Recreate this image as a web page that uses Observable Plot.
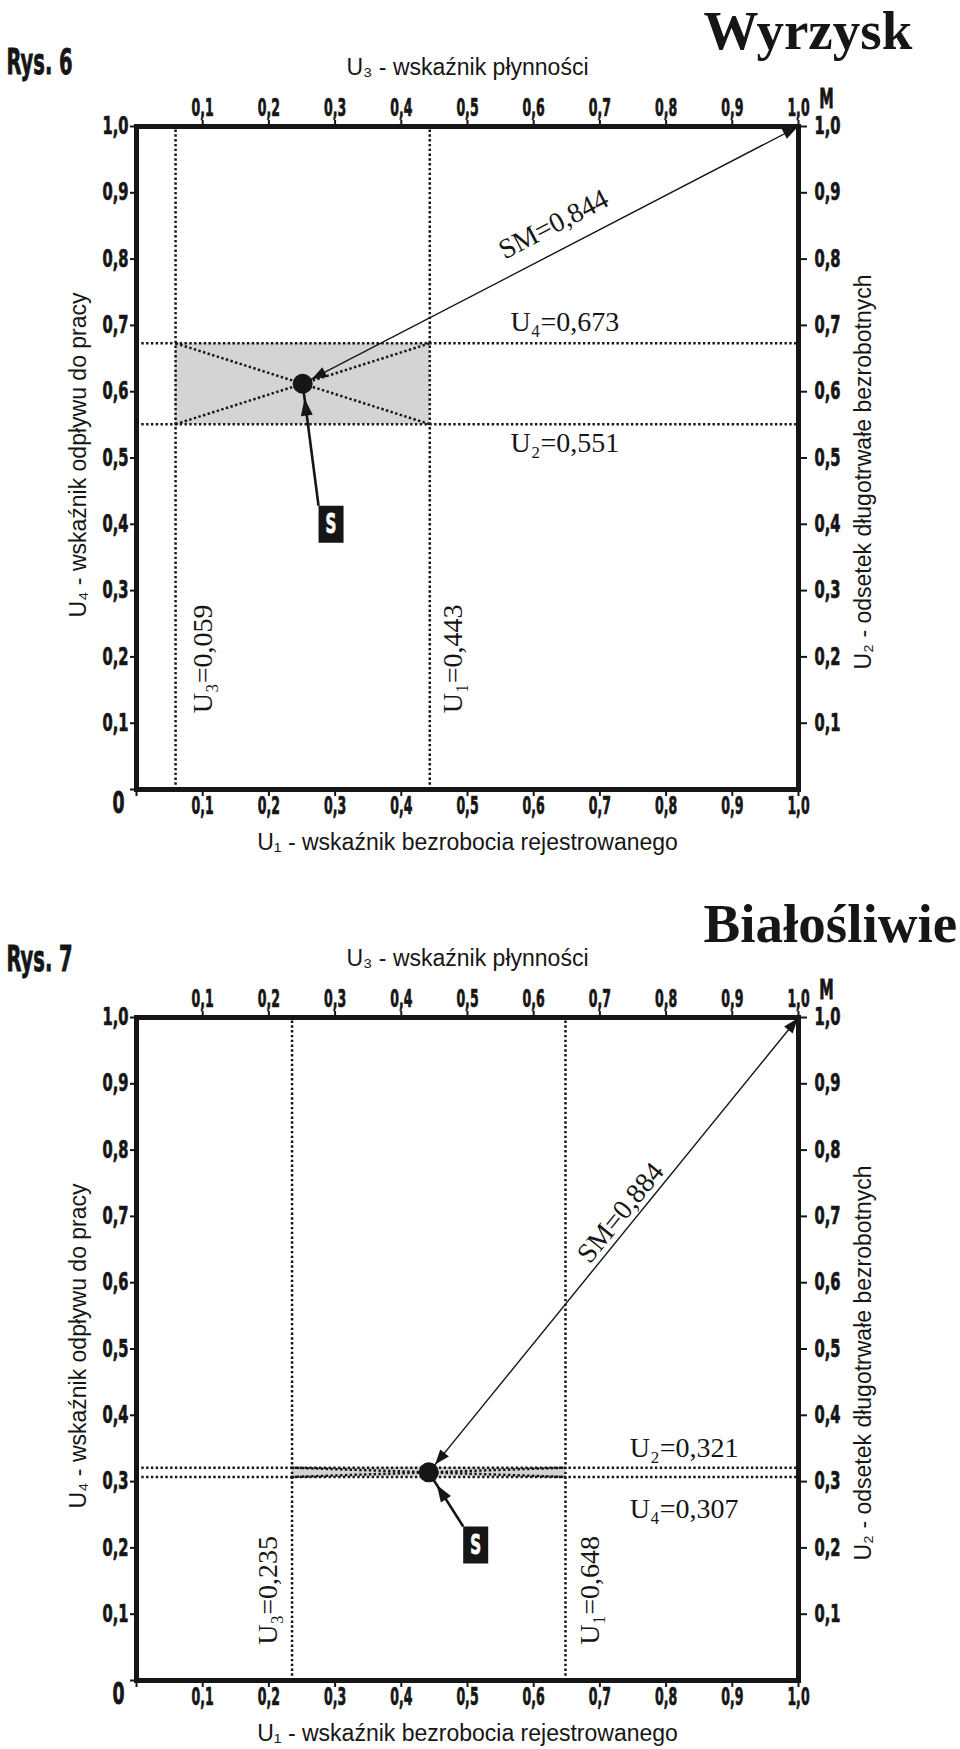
<!DOCTYPE html>
<html><head><meta charset="utf-8">
<script src="https://cdn.jsdelivr.net/npm/d3@7"></script>
<script src="https://cdn.jsdelivr.net/npm/@observablehq/plot@0.6"></script>
<style>html,body{margin:0;padding:0;background:#fff;} svg{display:block;}</style>
</head><body><div id="root"></div>
<script>
// ---- data ----
const chartNames = ["Wyrzysk", "Białośliwie"];
const figureNumbers = ["Rys. 6", "Rys. 7"];
const u1Values = [0.443, 0.648];   // wskaźnik bezrobocia rejestrowanego (x, bottom)
const u2Values = [0.551, 0.321];   // odsetek długotrwale bezrobotnych (y, right)
const u3Values = [0.059, 0.235];   // wskaźnik płynności (x, top)
const u4Values = [0.673, 0.307];   // wskaźnik odpływu do pracy (y, left)
const smValues = [0.844, 0.884];   // distance S-M
const axisTicks = [0.1, 0.2, 0.3, 0.4, 0.5, 0.6, 0.7, 0.8, 0.9, 1.0];
const axisTicksWithZero = [0, 0.1, 0.2, 0.3, 0.4, 0.5, 0.6, 0.7, 0.8, 0.9, 1.0];
const titleBottom = "U₁ - wskaźnik bezrobocia rejestrowanego";
const titleTop = "U₃ - wskaźnik płynności";
const titleLeft = "U₄ - wskaźnik odpływu do pracy";
const titleRight = "U₂ - odsetek długotrwałe bezrobotnych";

// ---- layout ----
const W = 960, ML = 136, MR = 162;
const layouts = [
  {height: 891, marginTop: 126, marginBottom: 102, rysDy: -53, nameDy: -78, vLabelY: 0.115, u3Dx: 36, u1Dx: 32,
   hLabelX: 0.565, upperDy: -12, lowerDy: 28, smT: 0.53, smOff: 26, boxX: 0.275, boxY: 0.428},
  {height: 858, marginTop: 126, marginBottom: 69, rysDy: -47, nameDy: -76, vLabelY: 0.054, u3Dx: -15, u1Dx: 34,
   hLabelX: 0.745, upperDy: -11, lowerDy: 41, smT: 0.55, smOff: 15, boxX: 0.4935, boxY: 0.2323}
];
const INK = "#161616";
const NARROW = '"DejaVu Sans Condensed", "DejaVu Sans", sans-serif';
const SANS = '"Liberation Sans", Arial, sans-serif';
const SERIF = '"Liberation Serif", "Times New Roman", serif';

const fmt1 = d => d === 0 ? "" : d.toFixed(1).replace(".", ",");
const fmt3 = d => d.toFixed(3).replace(".", ",");

function headSymbol(dx, dy, off, len, half) {
  const n = Math.hypot(dx, dy), ux = dx / n, uy = dy / n;
  return {draw(ctx) {
    const tx = -ux * off, ty = -uy * off;
    const bx = tx - ux * len, by = ty - uy * len;
    ctx.moveTo(tx, ty);
    ctx.lineTo(bx - uy * half, by + ux * half);
    ctx.lineTo(bx + uy * half, by - ux * half);
    ctx.closePath();
  }};
}
const boxSymbol = {draw(ctx) { ctx.rect(0, 0, 25, 37); }};

// condensed, heavy look of the original's display font
function condense(svg) {
  const squeeze = (sel, k, sw) => svg.querySelectorAll(sel).forEach(t => {
    if (t.dataset.squeezed) return;
    t.dataset.squeezed = "1";
    t.setAttribute("transform", (t.getAttribute("transform") || "") + ` scale(${k},1)`);
    const f = t.getAttribute("fill") || t.parentNode.getAttribute("fill");
    t.setAttribute("stroke", f === "#fff" ? "#fff" : INK);
    t.setAttribute("stroke-width", sw);
  });
  squeeze('g[aria-label="x-axis tick label"] text', 0.58, 0.7);
  squeeze('g[aria-label="y-axis tick label"] text', 0.68, 0.7);
  squeeze('.narrow text, text.narrow, text[aria-label="narrow"]', 0.62, 0.8);
  return svg;
}

function renderChart(i) {
  const L = layouts[i];
  const H = L.height, MT = L.marginTop, MB = L.marginBottom;
  const kx = W - ML - MR, ky = H - MT - MB;
  const u1 = u1Values[i], u2 = u2Values[i], u3 = u3Values[i], u4 = u4Values[i];
  const xLo = Math.min(u1, u3), xHi = Math.max(u1, u3);
  const yLo = Math.min(u2, u4), yHi = Math.max(u2, u4);
  const S = {x: (u1 + u3) / 2, y: (u2 + u4) / 2};
  const M = {x: 1, y: 1};
  const sdx = (M.x - S.x) * kx, sdy = -(M.y - S.y) * ky, sn = Math.hypot(sdx, sdy);
  const ang = Math.atan2(sdy, sdx) * 180 / Math.PI;
  const nx = sdy / sn, ny = -sdx / sn;
  const smLabel = [{x: S.x + L.smT * (M.x - S.x), y: S.y + L.smT * (M.y - S.y), t: "SM=" + fmt3(smValues[i])}];
  const box = {x: L.boxX, y: L.boxY};
  const bdx = (S.x - box.x) * kx, bdy = -(S.y - box.y) * ky;
  const hl = [{name: "U₄", v: u4}, {name: "U₂", v: u2}].sort((a, b) => b.v - a.v);
  const dotted = {stroke: INK, strokeWidth: 2.5, strokeDasharray: "2.4,2.4"};
  const axisFont = {fontSize: 24, fontWeight: "bold", fontFamily: NARROW, strokeWidth: 2, tickFormat: fmt1, label: null};
  const serif = {fontSize: 28, fontFamily: SERIF, fill: INK};
  const sans = {fontSize: 23, fontFamily: SANS, fill: INK};
  const narrow = {fontWeight: "bold", fontFamily: NARROW, className: "narrow", ariaLabel: () => "narrow"};

  const svg = Plot.plot({
    width: W, height: H, marginLeft: ML, marginRight: MR, marginTop: MT, marginBottom: MB,
    style: {background: "#fff", color: INK, fontFamily: SANS, overflow: "visible"},
    x: {domain: [0, 1]}, y: {domain: [0, 1]},
    marks: [
      Plot.rect([{x1: xLo, x2: xHi, y1: yLo, y2: yHi}], {x1: "x1", x2: "x2", y1: "y1", y2: "y2", fill: "#d4d4d4"}),
      Plot.link([u3, u1], {x1: d => d, x2: d => d, y1: () => 0, y2: () => 1, ...dotted}),
      Plot.link([u4, u2], {y1: d => d, y2: d => d, x1: () => 0, x2: () => 1, ...dotted}),
      Plot.link([{x1: xLo, y1: yHi, x2: xHi, y2: yLo}, {x1: xLo, y1: yLo, x2: xHi, y2: yHi}],
        {x1: "x1", y1: "y1", x2: "x2", y2: "y2", ...dotted}),
      Plot.frame({stroke: INK, strokeWidth: 5}),
      Plot.axisX({anchor: "top", ticks: axisTicks, tickSize: 7, tickPadding: 4, ...axisFont}),
      Plot.axisX({anchor: "bottom", ticks: axisTicksWithZero, tickSize: 7, tickPadding: 0, ...axisFont}),
      Plot.axisY({anchor: "left", ticks: axisTicksWithZero, tickSize: 6, tickPadding: 2, ...axisFont}),
      Plot.axisY({anchor: "right", ticks: axisTicks, tickSize: 8, tickPadding: 8, ...axisFont}),
      // corner labels
      Plot.text([{x: 0, y: 0, t: "0"}], {x: "x", y: "y", text: "t", dx: -18, dy: 14, fontSize: 31, fill: INK, ...narrow}),
      Plot.text([{x: M.x, y: M.y, t: "M"}], {x: "x", y: "y", text: "t", dx: 28, dy: -27, fontSize: 26, fill: INK, ...narrow}),
      // SM arrow
      Plot.link([{x1: S.x, y1: S.y, x2: M.x, y2: M.y}], {x1: "x1", y1: "y1", x2: "x2", y2: "y2", stroke: INK, strokeWidth: 1.4}),
      Plot.dot([M], {x: "x", y: "y", symbol: headSymbol(sdx, sdy, 1, 15, 5.5), fill: INK, stroke: "none"}),
      Plot.dot([S], {x: "x", y: "y", r: 10, fill: INK}),
      Plot.dot([S], {x: "x", y: "y", symbol: headSymbol(-sdx, -sdy, 10, 15, 5.5), fill: INK, stroke: "none"}),
      // S label arrow and box
      Plot.link([{x1: box.x, y1: box.y, x2: S.x, y2: S.y}], {x1: "x1", y1: "y1", x2: "x2", y2: "y2", stroke: INK, strokeWidth: 2.6}),
      Plot.dot([S], {x: "x", y: "y", symbol: headSymbol(bdx, bdy, 15, 17, 6), fill: INK, stroke: "none"}),
      Plot.dot([box], {x: "x", y: "y", symbol: boxSymbol, fill: INK, stroke: "none"}),
      Plot.text([{x: box.x, y: box.y, t: "S"}], {x: "x", y: "y", text: "t", dx: 12.5, dy: 18.5, fill: "#fff", fontSize: 27, ...narrow}),
      // value labels
      Plot.text(smLabel, {x: "x", y: "y", text: "t", rotate: ang, dx: nx * L.smOff, dy: ny * L.smOff, ...serif}),
      Plot.text([{x: L.hLabelX, y: hl[0].v, t: hl[0].name + "=" + fmt3(hl[0].v)}], {x: "x", y: "y", text: "t", textAnchor: "start", lineAnchor: "bottom", dy: L.upperDy, ...serif}),
      Plot.text([{x: L.hLabelX, y: hl[1].v, t: hl[1].name + "=" + fmt3(hl[1].v)}], {x: "x", y: "y", text: "t", textAnchor: "start", lineAnchor: "bottom", dy: L.lowerDy, ...serif}),
      Plot.text([{x: u3, y: L.vLabelY, t: "U₃=" + fmt3(u3)}], {x: "x", y: "y", text: "t", rotate: -90, textAnchor: "start", lineAnchor: "bottom", dx: L.u3Dx, ...serif}),
      Plot.text([{x: u1, y: L.vLabelY, t: "U₁=" + fmt3(u1)}], {x: "x", y: "y", text: "t", rotate: -90, textAnchor: "start", lineAnchor: "bottom", dx: L.u1Dx, ...serif}),
      // axis titles
      Plot.text([titleTop], {text: d => d, frameAnchor: "top", textAnchor: "middle", lineAnchor: "middle", dy: -59, ...sans}),
      Plot.text([titleBottom], {text: d => d, frameAnchor: "bottom", textAnchor: "middle", lineAnchor: "middle", dy: 53, ...sans}),
      Plot.text([titleLeft], {text: d => d, frameAnchor: "left", textAnchor: "middle", lineAnchor: "middle", dx: -58, dy: -3, rotate: -90, ...sans}),
      Plot.text([titleRight], {text: d => d, frameAnchor: "right", textAnchor: "middle", lineAnchor: "middle", dx: 65, dy: 14, rotate: -90, ...sans}),
      // figure number and place name
      Plot.text([figureNumbers[i]], {text: d => d, frameAnchor: "top-left", dx: 6 - ML, dy: L.rysDy, textAnchor: "start", lineAnchor: "bottom", fontSize: 35, fill: INK, ...narrow}),
      Plot.text([chartNames[i]], {text: d => d, frameAnchor: "top-left", dx: 567, dy: L.nameDy, textAnchor: "start", lineAnchor: "bottom", fontSize: 55, fontWeight: "bold", fontFamily: SERIF, fill: INK})
    ]
  });
  return svg;
}

const root = document.getElementById("root");
root.appendChild(renderChart(0));
root.appendChild(renderChart(1));
root.querySelectorAll("svg").forEach(condense);
</script>
</body></html>
